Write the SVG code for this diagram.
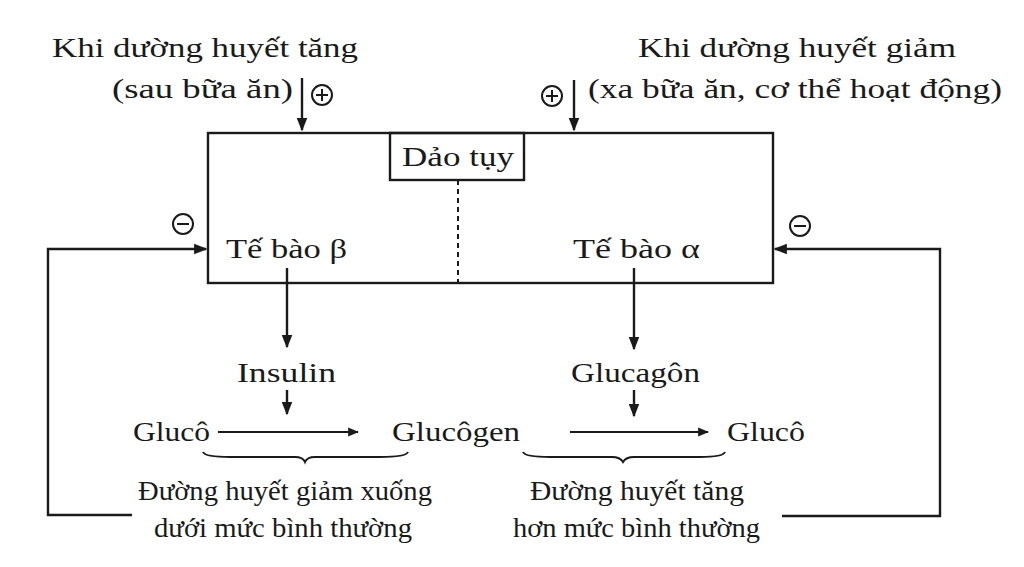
<svg xmlns="http://www.w3.org/2000/svg" width="1024" height="567" viewBox="0 0 1024 567">
<defs>
<marker id="ah" viewBox="0 0 10 10" refX="9" refY="5" markerWidth="5.5" markerHeight="5.5" orient="auto" markerUnits="strokeWidth">
<path d="M0,1 L10,5 L0,9 Z" fill="#1a1a1a"/>
</marker>
<style>
text{font-family:"Liberation Serif","DejaVu Serif",serif;font-size:28px;fill:#1a1a1a}
.ln{stroke:#1a1a1a;stroke-width:2.4;fill:none}
.thin{stroke:#1a1a1a;stroke-width:2;fill:none}
.sign{stroke:#1a1a1a;stroke-width:2;fill:#fff}
</style>
</defs>
<rect width="1024" height="567" fill="#fff"/>

<g id="label-increase">
<text x="52" y="57" textLength="306" lengthAdjust="spacingAndGlyphs">Khi dường huyết tăng</text>
<text x="112" y="98" textLength="181" lengthAdjust="spacingAndGlyphs">(sau bữa ăn)</text>
</g>
<g id="label-decrease">
<text x="638" y="57" textLength="318" lengthAdjust="spacingAndGlyphs">Khi dường huyết giảm</text>
<text x="588" y="98" textLength="414" lengthAdjust="spacingAndGlyphs">(xa bữa ăn, cơ thể hoạt động)</text>
</g>

<g id="pancreas">
<rect class="ln" x="208" y="133" width="565" height="150"/>
<line x1="458" y1="180" x2="458" y2="283" stroke="#1a1a1a" stroke-width="2" stroke-dasharray="5,4"/>
</g>
<g id="dao-tuy">
<rect class="ln" x="390" y="133" width="134" height="47" fill="#fff"/>
<text x="402" y="166" textLength="112" lengthAdjust="spacingAndGlyphs">Dảo tụy</text>
</g>
<g id="beta-cell">
<text x="226" y="258" textLength="121" lengthAdjust="spacingAndGlyphs">Tế bào β</text>
</g>
<g id="alpha-cell">
<text x="573" y="258" textLength="127" lengthAdjust="spacingAndGlyphs">Tế bào α</text>
</g>
<g id="insulin">
<text x="237" y="382" textLength="99" lengthAdjust="spacingAndGlyphs">Insulin</text>
</g>
<g id="glucagon">
<text x="571" y="382" textLength="129" lengthAdjust="spacingAndGlyphs">Glucagôn</text>
</g>
<g id="gluco-left">
<text x="133" y="441" textLength="77" lengthAdjust="spacingAndGlyphs">Glucô</text>
</g>
<g id="glucogen">
<text x="392" y="441" textLength="128" lengthAdjust="spacingAndGlyphs">Glucôgen</text>
</g>
<g id="gluco-right">
<text x="727" y="441" textLength="78" lengthAdjust="spacingAndGlyphs">Glucô</text>
</g>
<g id="result-low">
<text x="138" y="500" textLength="294" lengthAdjust="spacingAndGlyphs">Đường huyết giảm xuống</text>
<text x="154" y="537" textLength="258" lengthAdjust="spacingAndGlyphs">dưới mức bình thường</text>
</g>
<g id="result-high">
<text x="530" y="500" textLength="214" lengthAdjust="spacingAndGlyphs">Đường huyết tăng</text>
<text x="513" y="537" textLength="247" lengthAdjust="spacingAndGlyphs">hơn mức bình thường</text>
</g>

<g id="signs">
<circle class="sign" cx="322" cy="95" r="10"/>
<path class="thin" d="M316,95 H328 M322,89 V101"/>
<circle class="sign" cx="552" cy="96" r="10"/>
<path class="thin" d="M546,96 H558 M552,90 V102"/>
<circle class="sign" cx="183" cy="224" r="10"/>
<path class="thin" d="M177,224 H189"/>
<circle class="sign" cx="800" cy="226" r="10"/>
<path class="thin" d="M794,226 H806"/>
</g>

<g id="connectors">
<line class="ln" x1="302" y1="78" x2="302" y2="130" marker-end="url(#ah)"/>
<line class="ln" x1="574" y1="80" x2="574" y2="130" marker-end="url(#ah)"/>
<line class="ln" x1="287" y1="268" x2="287" y2="347" marker-end="url(#ah)"/>
<line class="ln" x1="634" y1="268" x2="634" y2="349" marker-end="url(#ah)"/>
<line class="ln" x1="287" y1="390" x2="287" y2="414" marker-end="url(#ah)"/>
<line class="ln" x1="634" y1="390" x2="634" y2="416" marker-end="url(#ah)"/>
<line class="thin" x1="218" y1="432" x2="358" y2="432" marker-end="url(#ah)"/>
<line class="thin" x1="570" y1="432" x2="708" y2="432" marker-end="url(#ah)"/>
<path class="thin" d="M203,452 Q205,457 230,457 H295 Q303,457 305,462 Q307,457 315,457 H380 Q406,457 408,452"/>
<path class="thin" d="M523,452 Q525,457 550,457 H612 Q620,457 623,462 Q626,457 634,457 H700 Q723,457 725,452"/>
<path class="ln" d="M132,515 H48 V249 H206" marker-end="url(#ah)"/>
<path class="ln" d="M782,516 H940 V249 H775" marker-end="url(#ah)"/>
</g>
</svg>
